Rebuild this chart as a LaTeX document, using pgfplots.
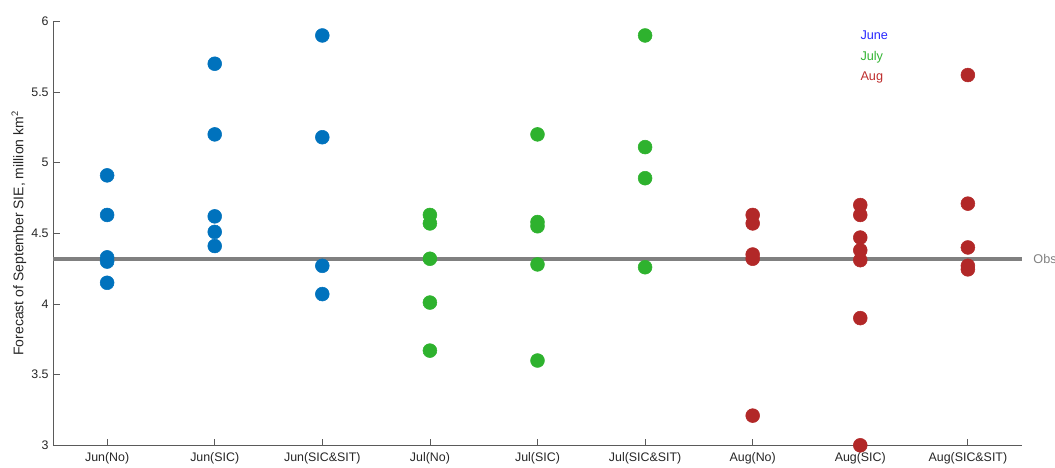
\documentclass[border=0pt]{standalone}
\usepackage{pgfplots}
\pgfplotsset{compat=1.18}
\usepackage{fontspec}
\setmainfont{Liberation Sans}
\definecolor{cjun}{RGB}{0,114,189}
\definecolor{cjul}{RGB}{46,178,46}
\definecolor{caug}{RGB}{178,40,40}
\definecolor{tjun}{RGB}{40,40,255}
\definecolor{tjul}{RGB}{50,180,50}
\definecolor{taug}{RGB}{190,45,45}
\definecolor{axgray}{RGB}{90,90,90}
\begin{document}
\begin{tikzpicture}
\begin{axis}[
  scale only axis, width=726.3pt, height=318pt,
  xmin=0.5, xmax=9.5, ymin=3, ymax=6,
  axis x line*=bottom, axis y line*=left,
  axis line style={axgray, line width=0.6pt},
  tick style={axgray, line width=0.6pt},
  tick align=inside, major tick length=5pt,
  xtick={1,...,9},
  xticklabels={Jun(No),Jun(SIC),Jun(SIC\&SIT),Jul(No),Jul(SIC),Jul(SIC\&SIT),Aug(No),Aug(SIC),Aug(SIC\&SIT)},
  ytick={3,3.5,4,4.5,5,5.5,6},
  yticklabels={3,3.5,4,4.5,5,5.5,6},
  ticklabel style={font=\fontsize{9.3}{10}\selectfont, text=black!85},
  xticklabel style={yshift=-2pt},
  ylabel={Forecast of September SIE, million km$^{\mathsf{2}}$},
  ylabel style={font=\fontsize{10.5}{12}\selectfont, text=black!85, yshift=-3pt},
  clip=false,
  only marks,
]
\addplot[no marks, sharp plot, line width=3pt, color=black!50] coordinates {(0.5,4.32) (9.5,4.32)};
\addplot[color=cjun, mark=*, mark size=5.2pt, mark options={fill=cjun, draw=none}] coordinates {
 (1,4.91) (1,4.63) (1,4.33) (1,4.30) (1,4.15)
 (2,5.70) (2,5.20) (2,4.62) (2,4.51) (2,4.41)
 (3,5.90) (3,5.18) (3,4.27) (3,4.07)
};
\addplot[color=cjul, mark=*, mark size=5.2pt, mark options={fill=cjul, draw=none}] coordinates {
 (4,4.63) (4,4.57) (4,4.32) (4,4.01) (4,3.67)
 (5,5.20) (5,4.58) (5,4.55) (5,4.28) (5,3.60)
 (6,5.90) (6,5.11) (6,4.89) (6,4.26)
};
\addplot[color=caug, mark=*, mark size=5.2pt, mark options={fill=caug, draw=none}] coordinates {
 (7,4.63) (7,4.57) (7,4.35) (7,4.32) (7,3.21)
 (8,4.70) (8,4.63) (8,4.47) (8,4.38) (8,4.31) (8,3.90) (8,3.00)
 (9,5.62) (9,4.71) (9,4.40) (9,4.27) (9,4.245)
};
\node[anchor=west, inner sep=0pt, text=black!50, font=\fontsize{9.5}{10}\selectfont] at (axis cs:9.607,4.32) {Obs};
\node[anchor=west, inner sep=0pt, text=tjun, font=\fontsize{9.5}{10}\selectfont] at (axis cs:8.0,5.903) {June};
\node[anchor=west, inner sep=0pt, text=tjul, font=\fontsize{9.5}{10}\selectfont] at (axis cs:8.0,5.747) {July};
\node[anchor=west, inner sep=0pt, text=taug, font=\fontsize{9.5}{10}\selectfont] at (axis cs:8.0,5.600) {Aug};
\end{axis}
\pgfresetboundingbox
\path (-40pt,-16.3pt) rectangle (751.3pt,334pt);
\end{tikzpicture}
\end{document}
